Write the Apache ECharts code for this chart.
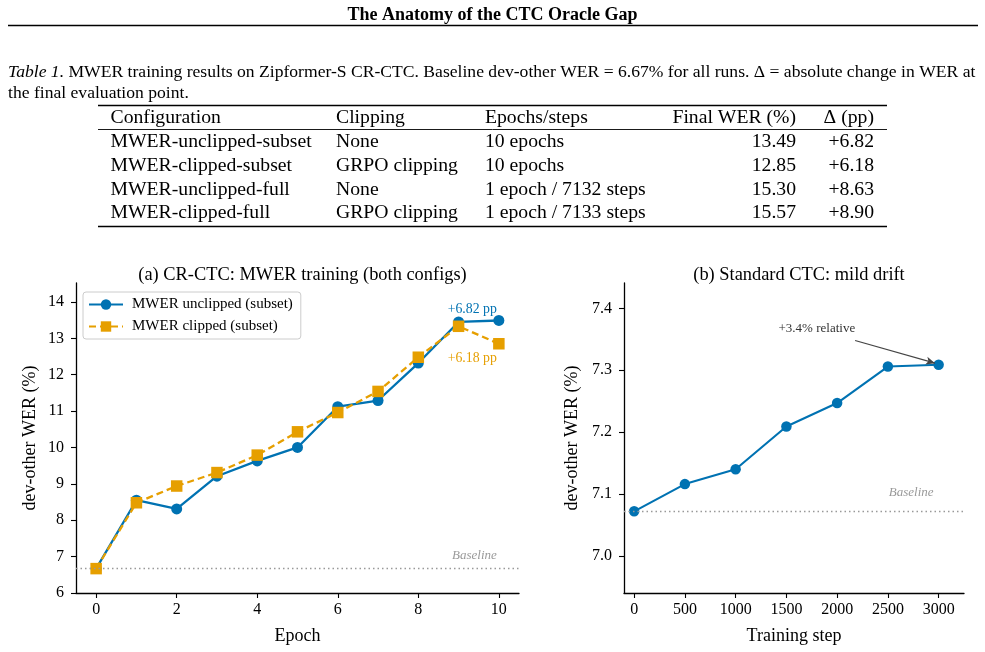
<!DOCTYPE html>
<html>
<head>
<meta charset="utf-8">
<script src="https://cdn.jsdelivr.net/npm/echarts@6/dist/echarts.min.js"></script>
<style>
html,body{margin:0;padding:0;background:#fff;}
#chart{width:985px;height:652px;}
</style>
</head>
<body>
<div id="chart"></div>
<script>
// ---------- data ----------
const epochs = [0, 1, 2, 3, 4, 5, 6, 7, 8, 9, 10];
const werUnclipped = [6.67, 8.55, 8.31, 9.21, 9.63, 10.00, 11.12, 11.29, 12.32, 13.45, 13.49];
const werClipped   = [6.67, 8.48, 8.94, 9.31, 9.79, 10.43, 10.96, 11.54, 12.48, 13.33, 12.85];
const baselineA = 6.67;

const steps = [0, 500, 1000, 1500, 2000, 2500, 3000];
const werCTC = [7.072, 7.116, 7.140, 7.209, 7.247, 7.306, 7.309];
const baselineB = 7.072;

const epochTicks = [0, 2, 4, 6, 8, 10];
const werTicksA = [6, 7, 8, 9, 10, 11, 12, 13, 14];
const stepTicks = [0, 500, 1000, 1500, 2000, 2500, 3000];
const werTicksB = [7.0, 7.1, 7.2, 7.3, 7.4];

const tableHeader = ['Configuration', 'Clipping', 'Epochs/steps', 'Final WER (%)', '\u0394 (pp)'];
const colConfig = ['MWER-unclipped-subset', 'MWER-clipped-subset', 'MWER-unclipped-full', 'MWER-clipped-full'];
const colClipping = ['None', 'GRPO clipping', 'None', 'GRPO clipping'];
const colEpochs = ['10 epochs', '10 epochs', '1 epoch / 7132 steps', '1 epoch / 7133 steps'];
const colFinal = ['13.49', '12.85', '15.30', '15.57'];
const colDelta = ['+6.82', '+6.18', '+8.63', '+8.90'];

const pageTitle = 'The Anatomy of the CTC Oracle Gap';
const captionLine1 = 'MWER training results on Zipformer-S CR-CTC. Baseline dev-other WER = 6.67% for all runs. \u0394 = absolute change in WER at';
const captionLine2 = 'the final evaluation point.';

// ---------- styles ----------
const FONT = '"Liberation Serif", "Times New Roman", serif';
const BLUE = '#0072B2';
const ORANGE = '#E69F00';

const xRangeA = [-0.5, 10.5];
const yRangeA = [6, 14.52];
const xRangeB = [-100, 3250];
const yRangeB = [6.94, 7.441];

const chart = echarts.init(document.getElementById('chart'), null, {renderer: 'canvas'});

// header, caption, table
const graphics = [];
graphics.push({type: 'text', left: 'center', top: 6, style: {text: pageTitle, font: 'bold 18px ' + FONT, fill: '#000'}});
graphics.push({type: 'line', shape: {x1: 8, y1: 25.5, x2: 978, y2: 25.5}, style: {stroke: '#000', lineWidth: 1.6}});
graphics.push({type: 'text', x: 8, y: 72, style: {
  text: '{i|Table 1.} ' + captionLine1, verticalAlign: 'middle',
  font: '17.6px ' + FONT, fill: '#000',
  rich: {i: {fontStyle: 'italic', fontSize: 17.6, fontFamily: FONT}}
}});
graphics.push({type: 'text', x: 8, y: 93, style: {text: captionLine2, verticalAlign: 'middle', font: '17.6px ' + FONT, fill: '#000'}});

const tblX1 = 98, tblX2 = 887;
graphics.push({type: 'line', shape: {x1: tblX1, y1: 105.5, x2: tblX2, y2: 105.5}, style: {stroke: '#000', lineWidth: 1.3}});
graphics.push({type: 'line', shape: {x1: tblX1, y1: 129.5, x2: tblX2, y2: 129.5}, style: {stroke: '#000', lineWidth: 0.9}});
graphics.push({type: 'line', shape: {x1: tblX1, y1: 226.5, x2: tblX2, y2: 226.5}, style: {stroke: '#000', lineWidth: 1.3}});

const colX = [110.5, 336, 485, 796, 874];
const colAlign = ['left', 'left', 'left', 'right', 'right'];
const headerY = 118;
const rowY = [141.5, 165.5, 189.5, 213];
function cell(txt, c, y) {
  graphics.push({type: 'text', x: colX[c], y: y, style: {text: txt, align: colAlign[c], verticalAlign: 'middle', font: '19.7px ' + FONT, fill: '#000'}});
}
tableHeader.forEach((t, c) => cell(t, c, headerY));
const cols = [colConfig, colClipping, colEpochs, colFinal, colDelta];
cols.forEach((col, c) => col.forEach((t, r) => cell(t, c, rowY[r])));

const axisCommon = {
  axisLine: {show: true, onZero: false, lineStyle: {color: '#000', width: 1.3}},
  splitLine: {show: false},
  nameTextStyle: {fontFamily: FONT, fontSize: 18, color: '#000'},
  nameLocation: 'middle'
};
const tickCommon = {show: true, inside: false, length: 5, lineStyle: {color: '#000', width: 1.1}};
const labelCommon = {fontFamily: FONT, fontSize: 16, color: '#000'};

function axis(extra, ticks, margin, fmt) {
  return Object.assign({}, axisCommon, extra, {
    axisLabel: Object.assign({}, labelCommon, {margin: margin, customValues: ticks, formatter: fmt}),
    axisTick: Object.assign({}, tickCommon, {customValues: ticks})
  });
}

const option = {
  animation: false,
  backgroundColor: '#fff',
  textStyle: {fontFamily: FONT},
  title: [
    {text: '(a) CR-CTC: MWER training (both configs)', left: 297.5, top: 261, textAlign: 'center',
     textStyle: {fontFamily: FONT, fontSize: 18.4, fontWeight: 'normal', color: '#000'}},
    {text: '(b) Standard CTC: mild drift', left: 794, top: 261, textAlign: 'center',
     textStyle: {fontFamily: FONT, fontSize: 18.4, fontWeight: 'normal', color: '#000'}}
  ],
  grid: [
    {left: 76, top: 283, width: 443, height: 310, containLabel: false},
    {left: 624, top: 283, width: 340, height: 310, containLabel: false}
  ],
  legend: {
    data: ['MWER unclipped (subset)', 'MWER clipped (subset)'],
    orient: 'vertical', left: 83, top: 292,
    padding: [5, 8, 5, 5], itemGap: 7, itemWidth: 34, itemHeight: 13,
    backgroundColor: 'rgba(255,255,255,0.85)', borderColor: '#cccccc', borderWidth: 1, borderRadius: 3,
    textStyle: {fontFamily: FONT, fontSize: 15, color: '#000', padding: [0, 0, 0, 4]}
  },
  xAxis: [
    axis({gridIndex: 0, type: 'value', min: xRangeA[0], max: xRangeA[1], name: 'Epoch', nameGap: 34}, epochTicks, 9, v => String(v)),
    axis({gridIndex: 1, type: 'value', min: xRangeB[0], max: xRangeB[1], name: 'Training step', nameGap: 34}, stepTicks, 9, v => String(v))
  ],
  yAxis: [
    axis({gridIndex: 0, type: 'value', min: yRangeA[0], max: yRangeA[1], name: 'dev-other WER (%)', nameGap: 37}, werTicksA, 12, v => String(v)),
    axis({gridIndex: 1, type: 'value', min: yRangeB[0], max: yRangeB[1], name: 'dev-other WER (%)', nameGap: 43}, werTicksB, 12, v => v.toFixed(1))
  ],
  series: [
    {
      name: 'MWER unclipped (subset)', type: 'line', xAxisIndex: 0, yAxisIndex: 0, z: 3,
      data: epochs.map((e, i) => [e, werUnclipped[i]]),
      symbol: 'circle', symbolSize: 11, showAllSymbol: true,
      lineStyle: {color: BLUE, width: 2.3}, itemStyle: {color: BLUE},
      markLine: {
        silent: true, symbol: 'none', label: {show: false},
        lineStyle: {color: '#999', type: [1.5, 3], width: 1.3},
        data: [{yAxis: baselineA}]
      },
      markPoint: {
        silent: true, symbol: 'circle', symbolSize: 0,
        data: [
          {coord: [10, werUnclipped[10] + 0.3], label: {show: true, position: 'left', distance: 2, formatter: '+6.82 pp', color: BLUE, fontSize: 13.8, fontFamily: FONT}},
          {coord: [10, baselineA + 0.35], label: {show: true, position: 'left', distance: 2, formatter: 'Baseline', color: '#999', fontSize: 13, fontStyle: 'italic', fontFamily: FONT}}
        ]
      }
    },
    {
      name: 'MWER clipped (subset)', type: 'line', xAxisIndex: 0, yAxisIndex: 0, z: 4,
      data: epochs.map((e, i) => [e, werClipped[i]]),
      symbol: 'rect', symbolSize: 11.5, showAllSymbol: true,
      lineStyle: {color: ORANGE, width: 2.3, type: [7, 4]}, itemStyle: {color: ORANGE},
      markPoint: {
        silent: true, symbol: 'circle', symbolSize: 0,
        data: [
          {coord: [10, werClipped[10] - 0.4], label: {show: true, position: 'left', distance: 2, formatter: '+6.18 pp', color: ORANGE, fontSize: 13.8, fontFamily: FONT}}
        ]
      }
    },
    {
      name: 'Standard CTC', type: 'line', xAxisIndex: 1, yAxisIndex: 1, z: 3,
      data: steps.map((s, i) => [s, werCTC[i]]),
      symbol: 'circle', symbolSize: 10.5, showAllSymbol: true,
      lineStyle: {color: BLUE, width: 2.1}, itemStyle: {color: BLUE},
      markLine: {
        silent: true, label: {show: false},
        data: [
          [{coord: [xRangeB[0], baselineB], symbol: 'none', lineStyle: {color: '#999', type: [1.5, 3], width: 1.3}},
           {coord: [xRangeB[1], baselineB], symbol: 'none'}],
          [{coord: [2177, 7.348], symbol: 'none', lineStyle: {color: '#444', type: 'solid', width: 1.2}},
           {coord: [2964, 7.3115], symbol: 'arrow', symbolSize: [6, 9]}]
        ]
      },
      markPoint: {
        silent: true, symbol: 'circle', symbolSize: 0,
        data: [
          {coord: [1800, 7.367], label: {show: true, position: 'inside', formatter: '+3.4% relative', color: '#333', fontSize: 13, fontFamily: FONT}},
          {coord: [2950, baselineB + 0.031], label: {show: true, position: 'left', distance: 0, formatter: 'Baseline', color: '#999', fontSize: 13, fontStyle: 'italic', fontFamily: FONT}}
        ]
      }
    }
  ],
  graphic: graphics
};
chart.setOption(option);
</script>
</body>
</html>
